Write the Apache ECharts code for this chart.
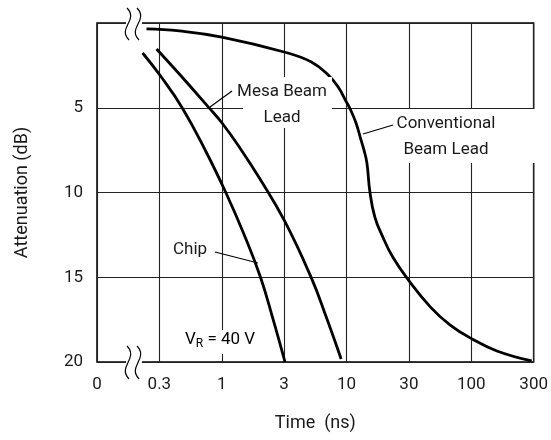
<!DOCTYPE html>
<html>
<head>
<meta charset="utf-8">
<script src="https://cdn.jsdelivr.net/npm/echarts@6/dist/echarts.min.js"></script>
<style>
html,body{margin:0;padding:0;background:#fff;}
#c{width:551px;height:440px;}
</style>
</head>
<body>
<div id="c"></div>
<script>
// Tick values / labels of the (evenly spaced) time axis
const tickValues = [0, 0.3, 1, 3, 10, 30, 100, 300];
const tickLabels = ['0', '0.3', '1', '3', '10', '30', '100', '300'];
const yTicks = [0, 5, 10, 15, 20];

// Chip
const chipTime  = [0.217, 0.307, 0.467, 0.740, 1.078, 1.476, 1.987, 2.451, 3.05];
const chipAtten = [1.77, 3.13, 5.01, 7.61, 10.03, 12.45, 15.04, 17.40, 20.0];

// Mesa Beam Lead
const mesaTime  = [0.284, 0.441, 0.784, 1.005, 1.377, 1.919, 3.025, 5.073, 6.762, 9.01];
const mesaAtten = [1.53, 3.01, 5.01, 5.90, 7.37, 9.09, 11.68, 15.04, 17.35, 19.82];

// Conventional Beam Lead
const convTime  = [0.234, 0.441, 1.0, 3.0, 5.07, 7.03, 8.51, 9.98, 10.65, 11.82, 12.9, 13.59, 14.32, 15.1, 16.47, 18.95, 22.57, 29.3, 45.5, 66.6, 101.4, 157, 289.6];
const convAtten = [0.35, 0.47, 0.83, 1.71, 2.30, 3.07, 3.78, 4.66, 5.07, 5.90, 6.90, 7.49, 8.26, 9.97, 11.45, 12.63, 13.81, 15.10, 16.76, 17.82, 18.64, 19.35, 19.94];

// time (ns) -> position on the evenly spaced axis (piecewise log between ticks)
function toPos(t) {
  if (t <= tickValues[1]) {
    return 1 + Math.log(t / tickValues[1]) / Math.log(tickValues[2] / tickValues[1]);
  }
  for (let i = 1; i < tickValues.length - 1; i++) {
    if (t <= tickValues[i + 1]) {
      return i + Math.log(t / tickValues[i]) / Math.log(tickValues[i + 1] / tickValues[i]);
    }
  }
  return tickValues.length - 1;
}
function pts(times, att) { return times.map((t, i) => [toPos(t), att[i]]); }

const FONT = 'Roboto, "Liberation Sans", sans-serif';
const TXT = '#1a1a1a';

const chart = echarts.init(document.getElementById('c'), null, {renderer: 'canvas'});

const lineSeries = (name, data) => ({
  name, type: 'line', data, smooth: 0.45, showSymbol: false, symbol: 'none',
  lineStyle: {color: '#000', width: 2.8}, z: 5
});

function sCurve(cx, y0, h) {
  return {
    type: 'bezierCurve', z: 120,
    shape: {x1: cx - 1, y1: y0, cpx1: cx + 11, cpy1: y0 + h * 0.38, cpx2: cx - 11, cpy2: y0 + h * 0.62, x2: cx + 1, y2: y0 + h},
    style: {stroke: '#000', lineWidth: 1.2, fill: null}
  };
}
function box(x, y, w, h) {
  return {type: 'rect', z: 110, shape: {x, y, width: w, height: h}, style: {fill: '#fff'}};
}
function txt(x, y, text, align) {
  return {type: 'text', z: 130, x, y, style: {text, fill: TXT, font: '17px ' + FONT, textAlign: align || 'center', textVerticalAlign: 'middle'}};
}
function leader(x1, y1, x2, y2) {
  return {type: 'line', z: 130, shape: {x1, y1, x2, y2}, style: {stroke: '#000', lineWidth: 1.2}};
}

chart.setOption({
  animation: false,
  backgroundColor: '#fff',
  grid: {left: 97, right: 14, top: 23, bottom: 78, show: true, borderColor: '#000', borderWidth: 1.5, backgroundColor: 'transparent'},
  xAxis: {
    type: 'value', min: 0, max: tickValues.length - 1, interval: 1,
    axisLine: {show: false}, axisTick: {show: false},
    axisLabel: {formatter: v => tickLabels[v] !== undefined ? tickLabels[v] : '', fontSize: 17, fontFamily: FONT, color: TXT, margin: 14, showMinLabel: true, showMaxLabel: true},
    splitLine: {show: true, lineStyle: {color: '#222', width: 1.1}},
    name: 'Time  (ns)', nameLocation: 'middle', nameGap: 52,
    nameTextStyle: {fontSize: 18, fontFamily: FONT, color: TXT}
  },
  yAxis: {
    type: 'value', inverse: true, min: yTicks[0], max: yTicks[yTicks.length - 1], interval: 5,
    axisLine: {show: false}, axisTick: {show: false},
    axisLabel: {formatter: v => v === 0 ? '' : String(v), fontSize: 17, fontFamily: FONT, color: TXT, margin: 14},
    splitLine: {show: true, lineStyle: {color: '#222', width: 1.1}},
    name: 'Attenuation (dB)', nameLocation: 'middle', nameGap: 66, nameRotate: 90,
    nameTextStyle: {fontSize: 18, fontFamily: FONT, color: TXT}
  },
  series: [
    lineSeries('Chip', pts(chipTime, chipAtten)),
    lineSeries('Mesa Beam Lead', pts(mesaTime, mesaAtten)),
    lineSeries('Conventional Beam Lead', pts(convTime, convAtten))
  ],
  graphic: [
    // axis break gaps
    box(126, 20, 16, 6),
    box(126, 359, 16, 6),
    sCurve(128, 8, 32), sCurve(138, 8, 32),
    sCurve(128, 346, 33), sCurve(138, 346, 33),
    // annotation backgrounds
    box(243, 77, 89, 51),
    box(390, 109, 146, 54),
    box(183, 330, 80, 24),
    // annotation texts
    txt(282, 92, 'Mesa Beam'),
    txt(282, 118, 'Lead'),
    txt(446, 124, 'Conventional'),
    txt(446, 150, 'Beam Lead'),
    txt(173, 250, 'Chip', 'left'),
    {type: 'text', z: 130, x: 185, y: 340, style: {
      text: '{a|V}{b|R}{a| = 40 V}', textVerticalAlign: 'middle', textAlign: 'left',
      rich: {a: {fontSize: 17, fontFamily: FONT, color: TXT}, b: {fontSize: 12, fontFamily: FONT, color: TXT, padding: [8, 0, 0, 0]}}
    }},
    // leader lines
    leader(232, 91, 210, 107),
    leader(393, 125, 363, 134),
    leader(215, 252, 258, 263)
  ]
});
</script>
</body>
</html>
